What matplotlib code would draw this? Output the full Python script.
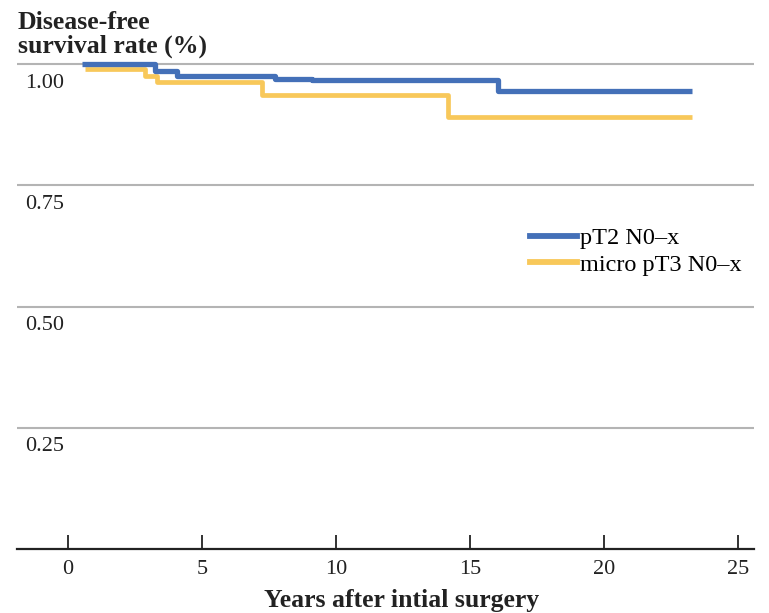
import matplotlib
matplotlib.use("Agg")
import matplotlib.pyplot as plt
import matplotlib.transforms as mtransforms
from matplotlib.lines import Line2D

plt.rcParams['font.family'] = ['Liberation Serif', 'DejaVu Serif']

# step data (years, survival)
pt2_years = [0.52, 3.25, 4.06, 7.73, 9.1, 16.04, 23.27]
pt2_surv = [1.0, 0.986, 0.976, 0.970, 0.966, 0.945, 0.945]
micro_years = [0.64, 2.88, 3.32, 7.23, 14.17, 23.27]
micro_surv = [0.990, 0.976, 0.962, 0.936, 0.891, 0.891]

series_names = ["pT2 N0\u2013x", "micro pT3 N0\u2013x"]
x_ticks = [0, 5, 10, 15, 20, 25]
y_grid = [0.25, 0.50, 0.75, 1.00]
y_labels = ["0.25", "0.50", "0.75", "1.00"]

blue = '#4470B8'
gold = '#F8C85A'

fig = plt.figure(figsize=(7.69, 6.13), dpi=100)
ax = fig.add_axes([16.7 / 769, 1 - 549 / 613, (754 - 16.7) / 769, (549 - 40) / 613])

ax.set_xlim(-1.9, 25.58)
ax.set_ylim(0, (549 - 40) / 485)

# gridlines
for g in y_grid:
    ax.axhline(g, color='#b4b4b4', lw=1.5, zorder=1)

ax.plot(pt2_years, pt2_surv, drawstyle='steps-post', color=blue, lw=3.8,
        solid_capstyle='butt', zorder=3)
ax.plot(micro_years, micro_surv, drawstyle='steps-post', color=gold, lw=3.4,
        solid_capstyle='butt', zorder=2)

# y labels sit inside, under each gridline
trans = mtransforms.blended_transform_factory(ax.transAxes, ax.transData)
trans = mtransforms.offset_copy(trans, fig=fig, y=-19, units='dots')
for g, lab in zip(y_grid, y_labels):
    ax.text(0.0113, g, lab, transform=trans, ha='left', va='center',
            fontsize=16, color='#222222')

for s in ['top', 'right', 'left']:
    ax.spines[s].set_visible(False)
ax.spines['bottom'].set_linewidth(1.6)
ax.spines['bottom'].set_color('#222222')
ax.set_yticks([])
ax.set_xticks(x_ticks)
ax.tick_params(axis='x', direction='in', length=10, width=1.3, pad=8,
               labelsize=16, colors='#222222')

fig.text(18 / 769, 1 - 11 / 613, "Disease-free\nsurvival rate (%)", ha='left', va='top',
         fontsize=18.5, fontweight='bold', linespacing=1.02, color='#222222')
fig.text(402 / 769, 1 - 601 / 613, "Years after intial surgery", ha='center', va='center',
         fontsize=18.5, fontweight='bold', color='#222222')

handles = [Line2D([0], [0], color=blue, lw=4.2), Line2D([0], [0], color=gold, lw=4.2)]
fig.legend(handles, series_names, loc='upper left',
           bbox_to_anchor=(530 / 769, 1 - 227 / 613), frameon=False, fontsize=17.5,
           handlelength=1.95, handletextpad=0.1, borderpad=0, borderaxespad=0,
           labelspacing=0.2)

fig.savefig("out.png", dpi=100)
